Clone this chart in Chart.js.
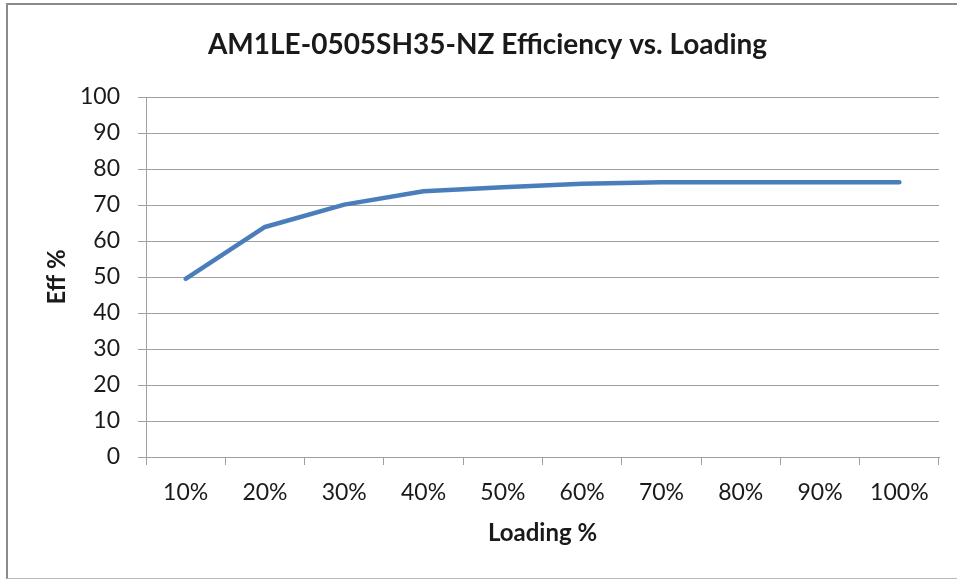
<!DOCTYPE html>
<html>
<head>
<meta charset="utf-8">
<script src="https://cdn.jsdelivr.net/npm/chart.js@4"></script>
<style>
  html, body { margin: 0; padding: 0; background: #fff; }
  #wrap { position: relative; width: 957px; height: 580px; }
  #frame { position: absolute; left: 6px; top: 3px; width: 960px; height: 573px;
           border-top: 2px solid #8a8a8a; border-left: 2px solid #8a8a8a; border-bottom: 1px solid #b8b8b8; pointer-events: none; }
  canvas { position: absolute; left: 0; top: 0; }
</style>
</head>
<body>
<div id="wrap">
  <canvas id="c" width="957" height="580"></canvas>
  <div id="frame"></div>
</div>
<script>
const titleText = 'AM1LE-0505SH35-NZ Efficiency vs. Loading';
const loadingLabels = ['10%', '20%', '30%', '40%', '50%', '60%', '70%', '80%', '90%', '100%'];
const efficiency = [49.5, 63.9, 70.1, 73.8, 74.9, 75.9, 76.3, 76.3, 76.3, 76.3];
const yTicks = { min: 0, max: 100, step: 10 };

const gridColor = '#a0a0a0';
const textColor = '#1a1a1a';
const fontFamily = 'Lato, "Open Sans", sans-serif';

new Chart(document.getElementById('c'), {
  type: 'line',
  data: {
    labels: loadingLabels,
    datasets: [{
      data: efficiency,
      borderColor: '#4a7ebb',
      borderWidth: 4.5,
      pointRadius: 0,
      tension: 0,
      borderCapStyle: 'round',
      borderJoinStyle: 'round',
      fill: false
    }]
  },
  options: {
    responsive: false,
    animation: false,
    layout: { padding: { left: 36, right: 18, top: 0, bottom: 0 } },
    plugins: {
      legend: { display: false },
      tooltip: { enabled: false },
      title: {
        display: true,
        text: titleText,
        color: textColor,
        font: { family: fontFamily, size: 28, weight: 'bold' },
        padding: { top: 28, bottom: 35.4 }
      }
    },
    scales: {
      x: {
        offset: true,
        grid: { offset: true, drawOnChartArea: false, color: gridColor, tickLength: 8, tickColor: gridColor },
        border: { display: true, color: gridColor, width: 1 },
        ticks: { color: textColor, font: { family: fontFamily, size: 23 }, padding: 14, maxRotation: 0, autoSkip: false },
        title: { display: true, text: 'Loading %', color: textColor, font: { family: fontFamily, size: 24, weight: 'bold' }, padding: { top: 0, bottom: 32 } },
        afterFit: (s) => { s.height = 123; }
      },
      y: {
        min: yTicks.min,
        max: yTicks.max,
        grid: { color: gridColor, tickLength: 8, tickColor: gridColor },
        border: { display: true, color: gridColor, width: 1 },
        ticks: { stepSize: yTicks.step, color: textColor, font: { family: fontFamily, size: 23 }, padding: 18 },
        title: { display: true, text: 'Eff %', color: textColor, font: { family: fontFamily, size: 24, weight: 'bold' }, padding: { top: 7, bottom: 0 } },
        afterFit: (s) => { s.width = 110; }
      }
    }
  }
});
</script>
</body>
</html>
